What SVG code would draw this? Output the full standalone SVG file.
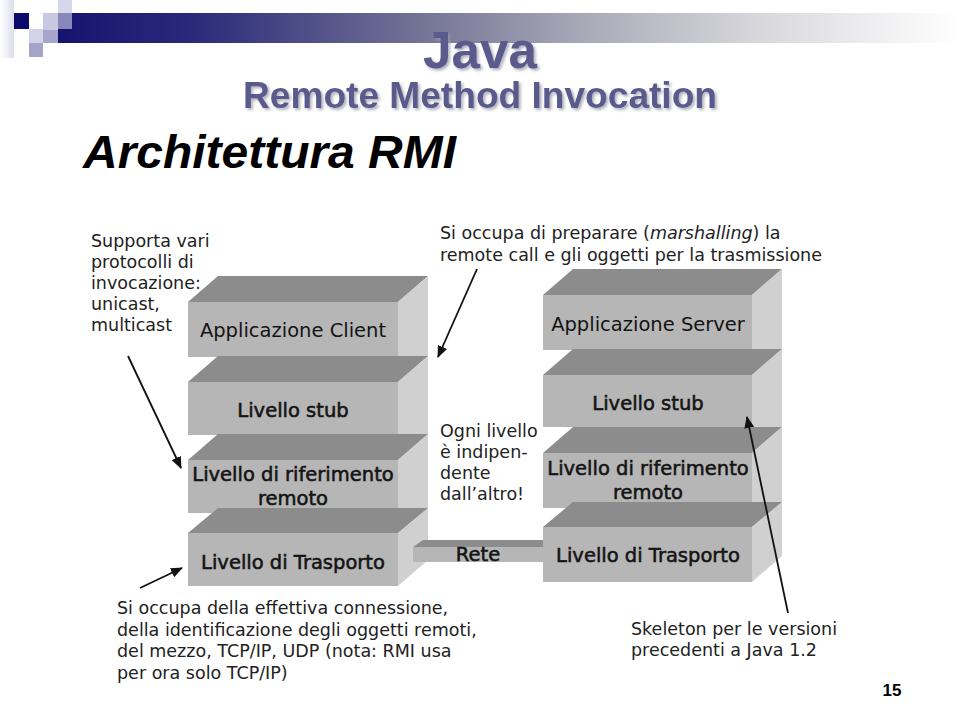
<svg xmlns="http://www.w3.org/2000/svg" width="960" height="720" viewBox="0 0 960 720">
  <defs>
    <linearGradient id="bar" x1="0" y1="0" x2="1" y2="0">
      <stop offset="0" stop-color="#141470"/>
      <stop offset="0.15" stop-color="#2a2a7a"/>
      <stop offset="0.4" stop-color="#737396"/>
      <stop offset="0.6" stop-color="#aeaebb"/>
      <stop offset="0.8" stop-color="#dcdce0"/>
      <stop offset="1" stop-color="#ffffff"/>
    </linearGradient>
    <linearGradient id="leftfade" x1="0" y1="0" x2="1" y2="0">
      <stop offset="0" stop-color="#ffffff"/>
      <stop offset="1" stop-color="#dcdcec"/>
    </linearGradient>
    <filter id="shadow" x="-10%" y="-20%" width="130%" height="150%">
      <feGaussianBlur in="SourceAlpha" stdDeviation="1.5" result="b"/>
      <feOffset in="b" dx="2" dy="2" result="o"/>
      <feFlood flood-color="#9a9aaa" flood-opacity="0.8"/>
      <feComposite in2="o" operator="in" result="s"/>
      <feMerge>
        <feMergeNode in="s"/>
        <feMergeNode in="SourceGraphic"/>
      </feMerge>
    </filter>
    <marker id="ah" viewBox="0 0 12 10" refX="11" refY="5" markerWidth="12" markerHeight="10" markerUnits="userSpaceOnUse" orient="auto">
      <path d="M0,0 L12,5 L0,10 Z" fill="#111"/>
    </marker>
  </defs>
  <style>
    .front { fill: #b6b6b6; }
    .top { fill: #8c8c8c; }
    .side { fill: #d0d0d0; }
    .pinf { fill: #a9a9a9; }
    .pins { fill: #dcdcdc; }
    .lbl { font-family: "DejaVu Sans", Verdana, sans-serif; font-size: 19.5px; fill: #141414; text-anchor: middle; }
    .bold { stroke: #141414; stroke-width: 0.55; }
    .note { font-family: "DejaVu Sans", Verdana, sans-serif; font-size: 17.5px; fill: #222; }
    .title { font-family: "Liberation Sans", Arial, sans-serif; font-weight: bold; text-anchor: middle; fill: #5a5a8c; }
    .arrow { stroke: #111; stroke-width: 1.8; fill: none; marker-end: url(#ah); }
  </style>

  <rect width="960" height="720" fill="#ffffff"/>

  <!-- header decoration -->
  <g id="header">
    <rect x="0" y="0" width="14" height="58" fill="url(#leftfade)"/>
    <rect x="58" y="13" width="902" height="30" fill="url(#bar)"/>
    <rect x="58" y="0" width="14" height="13" fill="#d6d6ea"/>
    <rect x="58" y="13" width="14" height="16" fill="#a4a4cc" opacity="0.8"/>
    <rect x="14" y="13" width="15" height="16" fill="#0b0b6b"/>
    <rect x="43" y="13" width="15" height="17" fill="#c8c8e2"/>
    <rect x="43" y="30" width="15" height="13" fill="#a6a6cc"/>
    <rect x="29" y="29" width="14" height="14" fill="#d2d2e8"/>
    <rect x="29" y="43" width="14" height="14" fill="#a4a4c8"/>
  </g>

  <!-- titles -->
  <g id="titles">
    <text class="title" x="480" y="68" font-size="52" filter="url(#shadow)" textLength="114" lengthAdjust="spacingAndGlyphs">Java</text>
    <text class="title" x="480" y="108" font-size="37" filter="url(#shadow)" textLength="474" lengthAdjust="spacingAndGlyphs">Remote Method Invocation</text>
    <text x="83" y="168" font-family="Liberation Sans, Arial, sans-serif" font-weight="bold" font-style="italic" font-size="47" fill="#000" textLength="373" lengthAdjust="spacingAndGlyphs">Architettura RMI</text>
  </g>

  <!-- client stack -->
  <g id="client-app">
    <polygon class="top" points="188,302 218,276 428,276 398,302"/>
    <polygon class="side" points="398,302 428,276 428,357 398,357"/>
    <rect class="front" x="188" y="302" width="210" height="55"/>
    <text class="lbl" x="293" y="337">Applicazione Client</text>
  </g>
  <g id="client-pin1">
    <rect class="pinf" x="286" y="357" width="22" height="13"/>
    <polygon class="pins" points="308,357 316,357 316,363 308,370"/>
  </g>
  <g id="client-stub">
    <polygon class="top" points="188,382 218,356 428,356 398,382"/>
    <polygon class="side" points="398,382 428,356 428,435 398,435"/>
    <rect class="front" x="188" y="382" width="210" height="53"/>
    <text class="lbl bold" x="293" y="417">Livello stub</text>
  </g>
  <g id="client-pin2">
    <rect class="pinf" x="293" y="435" width="22" height="14"/>
    <polygon class="pins" points="315,435 323,435 323,442 315,449"/>
  </g>
  <g id="client-rrl">
    <polygon class="top" points="188,460 218,434 428,434 398,460"/>
    <polygon class="side" points="398,460 428,434 428,513 398,513"/>
    <rect class="front" x="188" y="460" width="210" height="53"/>
    <text class="lbl bold" x="293" y="481">Livello di riferimento</text>
    <text class="lbl bold" x="293" y="505">remoto</text>
  </g>
  <g id="client-pin3">
    <rect class="pinf" x="293" y="513" width="22" height="14"/>
    <polygon class="pins" points="315,513 323,513 323,520 315,527"/>
  </g>
  <g id="client-transport">
    <polygon class="top" points="188,533 218,508 428,508 398,533"/>
    <polygon class="side" points="398,533 428,508 428,560 398,586"/>
    <rect class="front" x="188" y="533" width="210" height="53"/>
    <text class="lbl bold" x="293" y="569">Livello di Trasporto</text>
  </g>

  <!-- network bar -->
  <g id="rete">
    <polygon class="top" points="413,547 423,540 545,540 545,547"/>
    <rect class="front" x="413" y="547" width="132" height="15"/>
    <text class="lbl bold" x="478" y="561">Rete</text>
  </g>

  <!-- server stack -->
  <g id="server-app">
    <polygon class="top" points="543,295 573,269 782,269 752,295"/>
    <polygon class="side" points="752,295 782,269 782,350 752,350"/>
    <rect class="front" x="543" y="295" width="209" height="55"/>
    <text class="lbl" x="648" y="331">Applicazione Server</text>
  </g>
  <g id="server-pin1">
    <rect class="pinf" x="648" y="350" width="22" height="13"/>
    <polygon class="pins" points="670,350 678,350 678,356 670,363"/>
  </g>
  <g id="server-stub">
    <polygon class="top" points="543,375 573,349 782,349 752,375"/>
    <polygon class="side" points="752,375 782,349 782,427 752,427"/>
    <rect class="front" x="543" y="375" width="209" height="52"/>
    <text class="lbl bold" x="648" y="410">Livello stub</text>
  </g>
  <g id="server-pin2">
    <rect class="pinf" x="648" y="427" width="22" height="14"/>
    <polygon class="pins" points="670,427 678,427 678,434 670,441"/>
  </g>
  <g id="server-rrl">
    <polygon class="top" points="543,453 573,427 782,427 752,453"/>
    <polygon class="side" points="752,453 782,427 782,508 752,508"/>
    <rect class="front" x="543" y="453" width="209" height="55"/>
    <text class="lbl bold" x="648" y="475">Livello di riferimento</text>
    <text class="lbl bold" x="648" y="499">remoto</text>
  </g>
  <g id="server-pin3">
    <rect class="pinf" x="648" y="508" width="22" height="13"/>
    <polygon class="pins" points="670,508 678,508 678,514 670,521"/>
  </g>
  <g id="server-transport">
    <polygon class="top" points="543,527 573,502 782,502 752,527"/>
    <polygon class="side" points="752,527 782,502 782,556 752,582"/>
    <rect class="front" x="543" y="527" width="209" height="55"/>
    <text class="lbl bold" x="648" y="562">Livello di Trasporto</text>
  </g>

  <!-- annotations -->
  <g id="note-protocols">
    <text class="note" x="91" y="247">Supporta vari</text>
    <text class="note" x="91" y="268">protocolli di</text>
    <text class="note" x="91" y="289">invocazione:</text>
    <text class="note" x="91" y="310">unicast,</text>
    <text class="note" x="91" y="331">multicast</text>
  </g>
  <g id="note-marshalling">
    <text class="note" x="440" y="239">Si occupa di preparare (<tspan font-style="italic">marshalling</tspan>) la</text>
    <text class="note" x="440" y="261">remote call e gli oggetti per la trasmissione</text>
  </g>
  <g id="note-independent">
    <text class="note" x="440" y="437">Ogni livello</text>
    <text class="note" x="440" y="458">è indipen-</text>
    <text class="note" x="440" y="479">dente</text>
    <text class="note" x="440" y="500">dall’altro!</text>
  </g>
  <g id="note-transport">
    <text class="note" x="117" y="614">Si occupa della effettiva connessione,</text>
    <text class="note" x="117" y="636">della identificazione degli oggetti remoti,</text>
    <text class="note" x="117" y="657">del mezzo, TCP/IP, UDP (nota: RMI usa</text>
    <text class="note" x="117" y="679">per ora solo TCP/IP)</text>
  </g>
  <g id="note-skeleton">
    <text class="note" x="631" y="635">Skeleton per le versioni</text>
    <text class="note" x="631" y="656">precedenti a Java 1.2</text>
  </g>
  <text x="892" y="696" font-family="Liberation Sans, Arial, sans-serif" font-weight="bold" font-size="17" fill="#000" text-anchor="middle">15</text>

  <!-- connectors -->
  <g id="connectors">
    <line class="arrow" x1="128" y1="356" x2="181" y2="468"/>
    <line class="arrow" x1="140" y1="588" x2="182" y2="568"/>
    <line class="arrow" x1="477" y1="269" x2="438" y2="357"/>
    <line class="arrow" x1="788" y1="613" x2="747" y2="417"/>
  </g>
</svg>
